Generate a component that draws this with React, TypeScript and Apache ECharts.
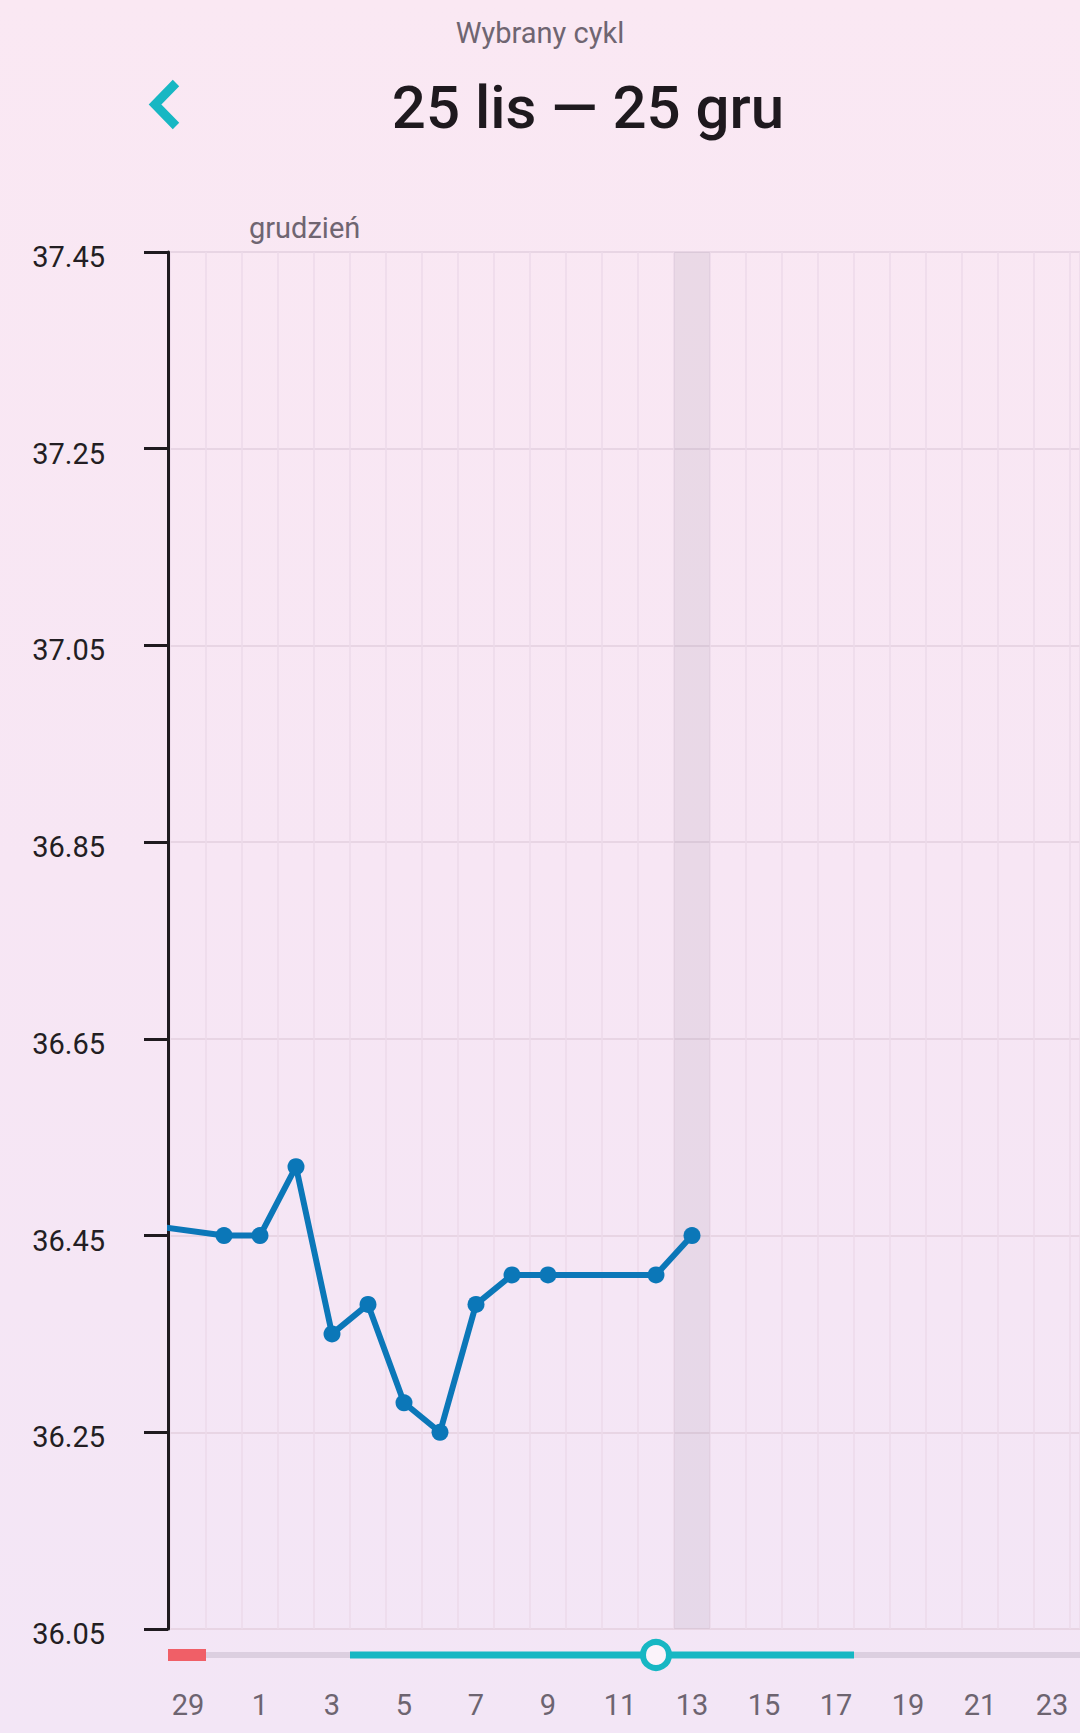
import React, { useEffect, useRef } from 'react';
import * as echarts from 'echarts';

// Day-of-month labels; position on the x axis = index - 1 (29 lis is position 0)
const dayNumbers = [28, 29, 30, 1, 2, 3, 4, 5, 6, 7, 8, 9, 10, 11, 12, 13, 14, 15, 16, 17, 18, 19, 20, 21, 22, 23, 24];
// Basal body temperature, 28 lis -> 13 gru (null = no measurement)
const temperatures: (number | null)[] = [36.46, null, 36.45, 36.45, 36.52, 36.35, 36.38, 36.28, 36.25, 36.38, 36.41, 36.41, null, null, 36.41, 36.45];
// Y axis
const yMin = 36.05;
const yMax = 37.45;
const yStep = 0.2;
// X labels shown every second day (positions)
const xLabelPositions = [0, 2, 4, 6, 8, 10, 12, 14, 16, 18, 20, 22, 24];
// Cycle phases (positions, inclusive)
const periodRange = [-4, 0];
const fertileRange = [5, 18];
const ovulationDay = 13;
const todayPosition = 14;

const COL = 36;
const GRID_LEFT = 170;
const GRID_TOP = 252;
const GRID_BOTTOM_Y = 1629;
const W = 1080;
const H = 1733;

function labelFor(pos: number): string {
  const idx = Math.round(pos) + 1;
  return idx >= 0 && idx < dayNumbers.length ? String(dayNumbers[idx]) : '';
}

export default function App() {
  const ref = useRef<HTMLDivElement>(null);
  useEffect(() => {
    document.body.style.margin = '0';
    document.body.style.overflow = 'hidden';
    if (!ref.current) return;
    const chart = echarts.init(ref.current, undefined, { renderer: 'svg' });
    const xMin = -0.5;
    const xMax = -0.5 + (W - GRID_LEFT) / COL;
    const stripMin = xMin - 2 / COL;

    const lineData = temperatures.map((v, i) => [i - 1, v == null ? '-' : v]);
    const ranges = [
      [-10, 40, 0],
      [periodRange[0], periodRange[1], 1],
      [fertileRange[0], fertileRange[1], 2],
    ];
    const rangeColors = ['#dccfe0', '#f05f67', '#17b7c3'];
    const rangeHeights = [6, 12, 7];

    chart.setOption({
      animation: false,
      backgroundColor: 'transparent',
      textStyle: { fontFamily: 'Roboto' },
      grid: [
        { left: GRID_LEFT, top: GRID_TOP, width: W - GRID_LEFT, height: GRID_BOTTOM_Y - GRID_TOP },
        { left: GRID_LEFT - 2, top: 1645, width: W - GRID_LEFT + 2, height: 20 },
      ],
      xAxis: [
        {
          gridIndex: 0,
          type: 'value',
          min: xMin,
          max: xMax,
          interval: 1,
          axisLine: { show: false, onZero: false },
          axisTick: { show: false },
          splitLine: { show: true, lineStyle: { color: '#ecdaea', width: 1.5 } },
          axisLabel: {
            customValues: xLabelPositions,
            formatter: (v: number) => labelFor(v),
            margin: 61,
            fontSize: 29,
            color: '#6d6470',
            fontFamily: 'Roboto',
          },
        },
        {
          gridIndex: 1,
          type: 'value',
          min: stripMin,
          max: xMax,
          show: false,
        },
      ],
      yAxis: [
        {
          gridIndex: 0,
          type: 'value',
          min: yMin,
          max: yMax,
          interval: yStep,
          offset: 2,
          axisLine: { show: true, onZero: false, lineStyle: { color: '#1f1a1f', width: 3 } },
          axisTick: { show: true, length: 24, lineStyle: { color: '#1f1a1f', width: 3 } },
          splitLine: { show: true, lineStyle: { color: '#e8d5e4', width: 2 } },
          axisLabel: {
            margin: 63,
            fontSize: 29,
            color: '#231e23',
            fontFamily: 'Roboto',
            verticalAlign: 'top',
            lineHeight: 10,
            formatter: (v: number) => v.toFixed(2),
          },
        },
        { gridIndex: 1, type: 'value', min: 0, max: 1, show: false },
      ],
      series: [
        {
          type: 'line',
          xAxisIndex: 0,
          yAxisIndex: 0,
          data: lineData,
          connectNulls: true,
          clip: true,
          symbol: 'circle',
          symbolSize: 17,
          showSymbol: true,
          lineStyle: { color: '#0b77b8', width: 6 },
          itemStyle: { color: '#0b77b8' },
          markArea: {
            silent: true,
            itemStyle: { color: 'rgba(130,113,136,0.12)' },
            data: [[{ xAxis: todayPosition - 0.5 }, { xAxis: todayPosition + 0.5 }]],
          },
          z: 3,
        },
        {
          type: 'custom',
          xAxisIndex: 1,
          yAxisIndex: 1,
          clip: true,
          data: ranges,
          renderItem: (params: any, api: any) => {
            const s = api.value(0);
            const e = api.value(1);
            const k = api.value(2);
            const p1 = api.coord([s - 0.5, 0.5]);
            const p2 = api.coord([e + 0.5, 0.5]);
            const h = rangeHeights[k];
            const cs = params.coordSys;
            const shape = echarts.graphic.clipRectByRect(
              { x: p1[0], y: p1[1] - h / 2, width: p2[0] - p1[0], height: h },
              { x: cs.x, y: cs.y, width: cs.width, height: cs.height }
            );
            if (!shape) return null;
            return { type: 'rect', shape, style: { fill: rangeColors[k] } };
          },
          z: 2,
        },
        {
          type: 'scatter',
          xAxisIndex: 1,
          yAxisIndex: 1,
          clip: false,
          data: [[ovulationDay, 0.5]],
          symbol: 'circle',
          symbolSize: 26,
          itemStyle: { color: '#fbf3fa', borderColor: '#17b7c3', borderWidth: 6, opacity: 1 },
          z: 4,
        },
      ],
      graphic: [
        {
          type: 'text',
          x: 540,
          y: 33,
          style: {
            text: 'Wybrany cykl',
            fontSize: 29,
            fontFamily: 'Roboto',
            fill: '#6f6571',
            textAlign: 'center',
            textVerticalAlign: 'middle',
          },
        },
        {
          type: 'text',
          x: 588,
          y: 107,
          style: {
            text: '25 lis — 25 gru',
            fontSize: 60,
            fontWeight: 500,
            fontFamily: 'Roboto',
            fill: '#1e191e',
            textAlign: 'center',
            textVerticalAlign: 'middle',
          },
        },
        {
          type: 'polyline',
          shape: { points: [[176, 83], [155, 104.5], [176, 126]] },
          style: { stroke: '#17b7c3', lineWidth: 9, fill: null, lineJoin: 'miter', lineCap: 'butt' },
        },
        {
          type: 'text',
          x: 249,
          y: 228,
          style: {
            text: 'grudzień',
            fontSize: 29,
            fontFamily: 'Roboto',
            fill: '#6f6571',
            textAlign: 'left',
            textVerticalAlign: 'middle',
          },
        },
      ],
    });
    return () => chart.dispose();
  }, []);
  return (
    <div
      style={{
        position: 'absolute',
        left: 0,
        top: 0,
        width: W,
        height: H,
        overflow: 'hidden',
        background: 'linear-gradient(180deg, #fae8f3 0%, #f7e6f4 50%, #f3e6f6 100%)',
      }}
    >
      <div ref={ref} style={{ width: W, height: H }} />
    </div>
  );
}
